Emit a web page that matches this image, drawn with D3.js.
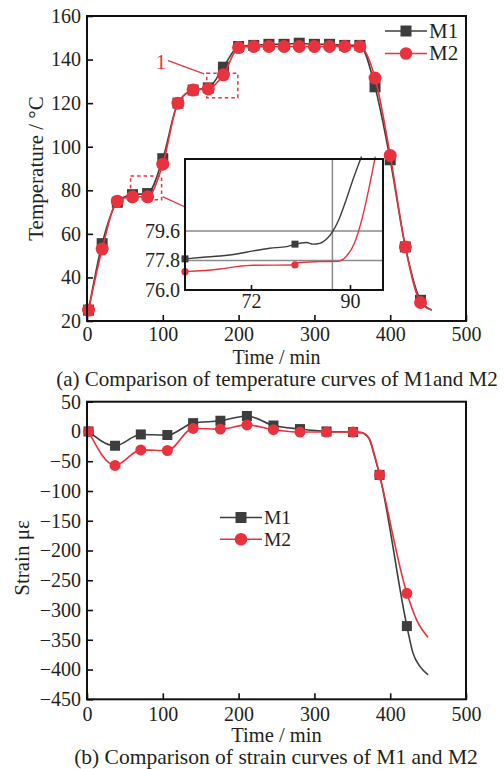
<!DOCTYPE html>
<html>
<head>
<meta charset="utf-8">
<script src="https://cdn.jsdelivr.net/npm/d3@7"></script>
<style>
body { margin: 0; background: #fff; }
text { font-family: "Liberation Serif", "Times New Roman", serif; fill: #231f20; }
</style>
</head>
<body>
<svg id="fig" width="504" height="769"></svg>
<script>
// ---- (a) temperature, marker readings
var tempTime = [2, 20, 40, 60, 80, 100, 120, 140, 160, 180, 200, 220, 240, 260, 280, 300, 320, 340, 360, 380, 400, 420, 440];
var tempM1 = [25, 55.5, 74.5, 78, 78.5, 94.5, 120, 126, 127, 136.5, 146, 146.5, 147, 147, 147.5, 147, 147, 146.5, 146.5, 127.5, 94, 54, 29.5];
var tempM2 = [25, 53, 75, 77, 77, 92, 120, 126, 126.5, 133, 145.5, 146, 146, 146, 146, 146, 146, 146, 146, 131.5, 96, 54, 28.5];
var tempTailTime = 455;
var tempTailValue = 25;
var tempXTicks = [0, 100, 200, 300, 400, 500];
var tempYTicks = [20, 40, 60, 80, 100, 120, 140, 160];

// zoom windows drawn on (a): [t0, t1, v0, v1]
var zoomBox1 = [158, 199, 122.5, 133.7];
var zoomBox2 = [57.5, 98.4, 75.6, 86.6];

// ---- inset of (a)
var insetTimeM1 = [60, 63.3, 66.4, 69.4, 72.4, 75.4, 78.5, 80, 82.1, 83.3, 84.5, 85.7, 86.9, 88.1, 89.3, 90.5, 92.1];
var insetM1 = [77.9, 78.0, 78.08, 78.2, 78.39, 78.55, 78.65, 78.8, 78.9, 78.8, 78.85, 79.1, 79.6, 80.4, 81.5, 82.7, 84.15];
var insetTimeM2 = [60, 66.4, 69.4, 72.4, 80, 80.3, 84.5, 87.8, 89.3, 90.8, 92.3, 93.5, 94.6];
var insetM2 = [77.12, 77.28, 77.43, 77.51, 77.53, 77.67, 77.73, 77.75, 78.04, 78.86, 80.5, 82.3, 84.15];
var insetMarkTime = [60, 80];
var insetMarkM1 = [77.9, 78.8];
var insetMarkM2 = [77.12, 77.53];
var insetXTicks = [72, 90];
var insetYTicks = [76.0, 77.8, 79.6];
var insetGridY = [77.8, 79.6];
var insetGridX = [86.8];

// ---- (b) strain, marker readings
var strainTime = [2, 37, 71, 106, 140, 176, 211, 246, 281, 316, 351, 386, 422];
var strainM1 = [0, -24, -5, -6, 14, 18, 26, 10, 4, 0, -1, -73, -327];
var strainM2 = [0, -57, -31, -32, 5, 4, 11, 3, -1, -1, -1, -73, -272];
// extra points where the curves bend between / after markers
var strainBendTime = [362, 372, 379];
var strainBendM1 = [-2, -12, -40];
var strainBendM2 = [-2, -11, -38];
var strainTailTimeM1 = [430, 440, 450];
var strainTailM1 = [-372, -396, -409];
var strainTailTimeM2 = [435, 450];
var strainTailM2 = [-317, -346];
var strainXTicks = [0, 100, 200, 300, 400, 500];
var strainYTicks = [50, 0, -50, -100, -150, -200, -250, -300, -350, -400, -450];

var colM1 = "#3d3d3d", colM2 = "#e8333e";
var svg = d3.select("#fig");

function zip(xs, ys) { return xs.map(function(v, i) { return [v, ys[i]]; }); }
function sortByX(a) { return a.slice().sort(function(p, q) { return p[0] - q[0]; }); }

function square(g, pts, x, y, s, col) {
	g.selectAll(null).data(pts).enter().append("rect")
		.attr("x", function(d) { return x(d[0]) - s / 2; })
		.attr("y", function(d) { return y(d[1]) - s / 2; })
		.attr("width", s).attr("height", s).attr("fill", col);
}
function dots(g, pts, x, y, r, col) {
	g.selectAll(null).data(pts).enter().append("circle")
		.attr("cx", function(d) { return x(d[0]); })
		.attr("cy", function(d) { return y(d[1]); })
		.attr("r", r).attr("fill", col);
}
function curve(g, pts, x, y, col, w) {
	var line = d3.line().x(function(d) { return x(d[0]); }).y(function(d) { return y(d[1]); })
		.curve(d3.curveMonotoneX);
	g.append("path").datum(pts).attr("d", line).attr("fill", "none")
		.attr("stroke", col).attr("stroke-width", w).attr("stroke-linejoin", "round");
}
function styleAxis(g) {
	g.select(".domain").remove();
	g.selectAll("line").attr("stroke", "#111").attr("stroke-width", 1.6);
	g.selectAll("text").attr("font-size", 20).attr("fill", "#231f20")
		.attr("font-family", "Liberation Serif, serif");
}
function frame(g, w, h) {
	g.append("rect").attr("width", w).attr("height", h)
		.attr("fill", "none").attr("stroke", "#111").attr("stroke-width", 2);
}
function legend(g, lx, ly, gap, fs) {
	[["M1", colM1], ["M2", colM2]].forEach(function(e, i) {
		var yy = ly + i * gap;
		g.append("line").attr("x1", lx).attr("x2", lx + 42).attr("y1", yy).attr("y2", yy)
			.attr("stroke", e[1]).attr("stroke-width", 1.6);
		if (i === 0) g.append("rect").attr("x", lx + 21 - 5.5).attr("y", yy - 5.5)
			.attr("width", 11).attr("height", 11).attr("fill", e[1]);
		else g.append("circle").attr("cx", lx + 21).attr("cy", yy).attr("r", 6.3).attr("fill", e[1]);
		g.append("text").attr("x", lx + 44).attr("y", yy + 6.8).attr("font-size", fs).text(e[0]);
	});
}

// ================= (a) =================
var A = { left: 87, right: 466, top: 16, bottom: 321 };
var xa = d3.scaleLinear().domain([0, 500]).range([A.left, A.right]);
var ya = d3.scaleLinear().domain([20, 160]).range([A.bottom, A.top]);

var ga = svg.append("g");
ga.append("g").attr("transform", "translate(0," + A.bottom + ")")
	.call(d3.axisBottom(xa).tickValues(tempXTicks).tickSize(-6).tickPadding(6).tickFormat(d3.format("d")))
	.call(styleAxis);
ga.append("g").attr("transform", "translate(" + A.left + ",0)")
	.call(d3.axisLeft(ya).tickValues(tempYTicks).tickSize(-6).tickPadding(6).tickFormat(d3.format("d")))
	.call(styleAxis);

var tM1 = zip(tempTime, tempM1), tM2 = zip(tempTime, tempM2);
curve(ga, tM1.concat([[tempTailTime, tempTailValue]]), xa, ya, colM1, 1.6);
square(ga, tM1, xa, ya, 11, colM1);
curve(ga, tM2.concat([[tempTailTime, tempTailValue]]), xa, ya, colM2, 1.6);
dots(ga, tM2, xa, ya, 6.5, colM2);

// dashed zoom windows
[zoomBox1, zoomBox2].forEach(function(b) {
	ga.append("rect").attr("x", xa(b[0])).attr("y", ya(b[3]))
		.attr("width", xa(b[1]) - xa(b[0])).attr("height", ya(b[2]) - ya(b[3]))
		.attr("fill", "none").attr("stroke", colM2).attr("stroke-width", 1.5)
		.attr("stroke-dasharray", "3.5,3");
});
ga.append("line").attr("x1", xa(107)).attr("y1", ya(139.5)).attr("x2", xa(154.5)).attr("y2", ya(133.4))
	.attr("stroke", colM2).attr("stroke-width", 1.3);
ga.append("text").attr("x", xa(97.5)).attr("y", ya(135.5)).attr("text-anchor", "middle")
	.attr("font-size", 21).style("fill", colM2).text("1");

frame(ga.append("g").attr("transform", "translate(" + A.left + "," + A.top + ")"), A.right - A.left, A.bottom - A.top);
legend(ga, 385, 31, 22.5, 21);

ga.append("text").attr("x", (A.left + A.right) / 2).attr("y", 363.5).attr("text-anchor", "middle")
	.attr("font-size", 20).text("Time / min");
ga.append("text").attr("transform", "translate(43," + ((A.top + A.bottom) / 2) + ") rotate(-90)")
	.attr("text-anchor", "middle").attr("font-size", 21).text("Temperature / °C");
ga.append("text").attr("x", 277).attr("y", 386).attr("text-anchor", "middle")
	.attr("font-size", 21).text("(a) Comparison of temperature curves of M1and M2");

// ---- inset
var I = { left: 185, right: 383, top: 159, bottom: 290 };
var xi = d3.scaleLinear().domain([60, 96]).range([I.left, I.right]);
var yi = d3.scaleLinear().domain([76, 84]).range([I.bottom, I.top]);
var gi = svg.append("g");
gi.append("rect").attr("x", I.left).attr("y", I.top).attr("width", I.right - I.left)
	.attr("height", I.bottom - I.top).attr("fill", "#fff");
// connector from the small dashed window to the inset
gi.append("line").attr("x1", xa(zoomBox2[1]) + 1).attr("y1", ya(77.1)).attr("x2", I.left).attr("y2", 207)
	.attr("stroke", colM2).attr("stroke-width", 1.3);
gi.selectAll(null).data(insetGridY).enter().append("line")
	.attr("x1", I.left).attr("x2", I.right).attr("y1", yi).attr("y2", yi)
	.attr("stroke", "#8a8a8a").attr("stroke-width", 1.5);
gi.selectAll(null).data(insetGridX).enter().append("line")
	.attr("x1", xi).attr("x2", xi).attr("y1", I.top).attr("y2", I.bottom)
	.attr("stroke", "#8a8a8a").attr("stroke-width", 1.5);
gi.append("g").attr("transform", "translate(0," + I.bottom + ")")
	.call(d3.axisBottom(xi).tickValues(insetXTicks).tickSize(-5).tickPadding(4).tickFormat(d3.format("d")))
	.call(styleAxis);
gi.append("g").attr("transform", "translate(" + I.left + ",0)")
	.call(d3.axisLeft(yi).tickValues(insetYTicks).tickSize(0).tickPadding(5).tickFormat(d3.format(".1f")))
	.call(styleAxis);
curve(gi, zip(insetTimeM1, insetM1), xi, yi, colM1, 1.4);
curve(gi, zip(insetTimeM2, insetM2), xi, yi, colM2, 1.4);
square(gi, zip(insetMarkTime, insetMarkM1), xi, yi, 7, colM1);
dots(gi, zip(insetMarkTime, insetMarkM2), xi, yi, 3.6, colM2);
frame(gi.append("g").attr("transform", "translate(" + I.left + "," + I.top + ")"), I.right - I.left, I.bottom - I.top);

// ================= (b) =================
var B = { left: 87, right: 466, top: 401.7, bottom: 699.3 };
var xb = d3.scaleLinear().domain([0, 500]).range([B.left, B.right]);
var yb = d3.scaleLinear().domain([-450, 50]).range([B.bottom, B.top]);
var gb = svg.append("g");
gb.append("g").attr("transform", "translate(0," + B.bottom + ")")
	.call(d3.axisBottom(xb).tickValues(strainXTicks).tickSize(-6).tickPadding(8).tickFormat(d3.format("d")))
	.call(styleAxis);
gb.append("g").attr("transform", "translate(" + B.left + ",0)")
	.call(d3.axisLeft(yb).tickValues(strainYTicks).tickSize(-6).tickPadding(6).tickFormat(d3.format("d")))
	.call(styleAxis);

var sM1 = zip(strainTime, strainM1), sM2 = zip(strainTime, strainM2);
curve(gb, sortByX(sM1.concat(zip(strainBendTime, strainBendM1), zip(strainTailTimeM1, strainTailM1))), xb, yb, colM1, 1.6);
square(gb, sM1, xb, yb, 10, colM1);
curve(gb, sortByX(sM2.concat(zip(strainBendTime, strainBendM2), zip(strainTailTimeM2, strainTailM2))), xb, yb, colM2, 1.6);
dots(gb, sM2, xb, yb, 5.5, colM2);

frame(gb.append("g").attr("transform", "translate(" + B.left + "," + B.top + ")"), B.right - B.left, B.bottom - B.top);
legend(gb, 220, 517.5, 21.8, 19.5);

gb.append("text").attr("x", (B.left + B.right) / 2).attr("y", 742).attr("text-anchor", "middle")
	.attr("font-size", 20.5).text("Time / min");
gb.append("text").attr("transform", "translate(29,558) rotate(-90)")
	.attr("text-anchor", "middle").attr("font-size", 21).text("Strain με");
gb.append("text").attr("x", 276).attr("y", 763.5).attr("text-anchor", "middle")
	.attr("font-size", 21.5).text("(b) Comparison of strain curves of M1 and M2");
</script>
</body>
</html>
